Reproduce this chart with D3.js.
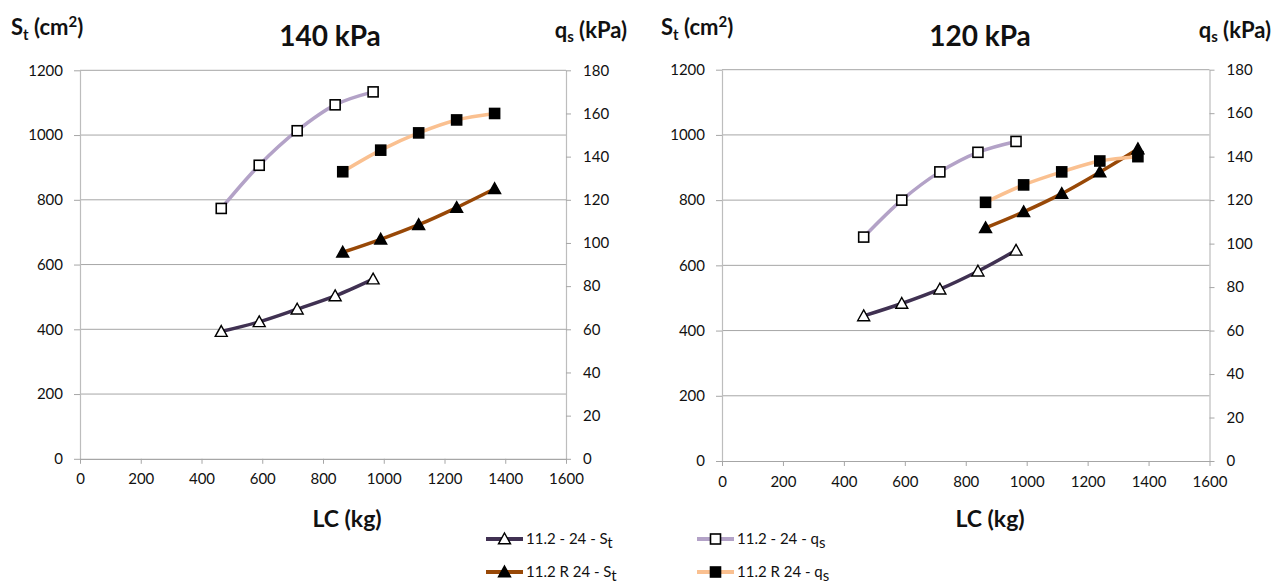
<!DOCTYPE html>
<html>
<head>
<meta charset="utf-8">
<script src="https://cdn.jsdelivr.net/npm/d3@7/dist/d3.min.js"></script>
<style>
  html, body { margin: 0; padding: 0; background: #fff; }
  svg { display: block; font-family: Lato, "Open Sans", sans-serif; }
</style>
</head>
<body>
<svg id="chart" width="1272" height="585"></svg>
<script>
// Load capacity (kg) at each test point
const lcA = [465, 590, 715, 840, 965];
const lcR = [865, 990, 1115, 1240, 1365];

// 140 kPa panel
const st140A = [393, 423, 462, 503, 555];
const st140R = [638, 678, 723, 776, 834];
const qs140A = [116, 136, 152, 164, 170];
const qs140R = [133, 143, 151, 157, 160];

// 120 kPa panel
const st120A = [445, 483, 527, 582, 646];
const st120R = [715, 764, 820, 886, 957];
const qs120A = [103, 120, 133, 142, 147];
const qs120R = [119, 127, 133, 138, 140];

// Axis ticks
const xTicks = [0, 200, 400, 600, 800, 1000, 1200, 1400, 1600];
const stTicks = [0, 200, 400, 600, 800, 1000, 1200];
const qsTicks = [0, 20, 40, 60, 80, 100, 120, 140, 160, 180];

const panelTitles = ["140 kPa", "120 kPa"];

const seriesStyle = {
  stA: { color: "#403152", marker: "triangle", fill: "#fff" },
  stR: { color: "#984807", marker: "triangle", fill: "#000" },
  qsA: { color: "#b3a2c7", marker: "square", fill: "#fff" },
  qsR: { color: "#fac090", marker: "square", fill: "#000" }
};

const svg = d3.select("#chart");
const fmt = d3.format("d");

function drawMarker(g, type, fill, x, y) {
  if (type === "square") {
    g.append("rect")
      .attr("x", x - 5).attr("y", y - 5)
      .attr("width", 10).attr("height", 10)
      .attr("fill", fill).attr("stroke", "#000").attr("stroke-width", 1.6);
  } else {
    const s = 6;
    g.append("path")
      .attr("d", `M${x},${y - s}L${x + s},${y + s * 0.8}L${x - s},${y + s * 0.8}Z`)
      .attr("fill", fill).attr("stroke", "#000").attr("stroke-width", 1.4);
  }
}

function drawPanel(cfg) {
  const x = d3.scaleLinear().domain([0, 1600]).range([cfg.left, cfg.right]);
  const yL = d3.scaleLinear().domain([0, 1200]).range([cfg.bottom, cfg.top]);
  const yR = d3.scaleLinear().domain([0, 180]).range([cfg.bottom, cfg.top]);
  const g = svg.append("g");

  // horizontal gridlines
  g.selectAll(".grid").data(stTicks.filter(d => d > 0)).enter().append("line")
    .attr("x1", cfg.left).attr("x2", cfg.right)
    .attr("y1", d => yL(d)).attr("y2", d => yL(d))
    .attr("stroke", "#a6a6a6").attr("stroke-width", 1);

  // left axis
  const axL = g.append("g").attr("transform", `translate(${cfg.left},0)`)
    .call(d3.axisLeft(yL).tickValues(stTicks).tickFormat(fmt).tickSize(6).tickPadding(11).tickSizeOuter(0));
  // right axis
  const axR = g.append("g").attr("transform", `translate(${cfg.right},0)`)
    .call(d3.axisRight(yR).tickValues(qsTicks).tickFormat(fmt).tickSize(5).tickPadding(12).tickSizeOuter(0));
  // bottom axis
  const axB = g.append("g").attr("transform", `translate(0,${cfg.bottom})`)
    .call(d3.axisBottom(x).tickValues(xTicks).tickFormat(fmt).tickSize(5).tickPadding(10).tickSizeOuter(0));

  [axL, axR, axB].forEach(a => {
    a.select(".domain").attr("stroke", "#bdbdbd").attr("stroke-width", 1.2);
    a.selectAll(".tick line").attr("stroke", "#a6a6a6");
    a.selectAll(".tick text").attr("fill", "#111").attr("font-size", 15)
      .attr("font-family", "Lato, sans-serif");
  });
  axB.select(".domain").attr("stroke", "#a6a6a6");

  const line = d3.line().curve(d3.curveCatmullRom.alpha(0.5));
  const series = [
    { key: "stA", xs: lcA, ys: cfg.stA, scale: yL },
    { key: "stR", xs: lcR, ys: cfg.stR, scale: yL },
    { key: "qsA", xs: lcA, ys: cfg.qsA, scale: yR },
    { key: "qsR", xs: lcR, ys: cfg.qsR, scale: yR }
  ];
  series.forEach(s => {
    const st = seriesStyle[s.key];
    const pts = s.xs.map((v, i) => [x(v), s.scale(s.ys[i])]);
    g.append("path").attr("d", line(pts))
      .attr("fill", "none").attr("stroke", st.color)
      .attr("stroke-width", 3.5).attr("stroke-linecap", "round");
    pts.forEach(p => drawMarker(g, st.marker, st.fill, p[0], p[1]));
  });

  // panel title
  g.append("text").attr("x", cfg.titleX).attr("y", 46)
    .attr("text-anchor", "middle").attr("font-weight", "bold")
    .attr("font-size", 28).attr("fill", "#111").text(cfg.title);

  // left axis title: S_t (cm²)
  const tl = g.append("text").attr("x", cfg.stTitleX).attr("y", 35)
    .attr("font-weight", "bold").attr("font-size", 22).attr("fill", "#111");
  tl.append("tspan").text("S");
  tl.append("tspan").attr("font-size", 15).attr("dy", 5).text("t");
  tl.append("tspan").attr("dy", -5).text(" (cm");
  tl.append("tspan").attr("font-size", 15).attr("dy", -8).text("2");
  tl.append("tspan").attr("dy", 8).text(")");

  // right axis title: q_s (kPa)
  const tr = g.append("text").attr("x", cfg.qsTitleX).attr("y", 38)
    .attr("text-anchor", "end")
    .attr("font-weight", "bold").attr("font-size", 22).attr("fill", "#111");
  tr.append("tspan").text("q");
  tr.append("tspan").attr("font-size", 15).attr("dy", 4).text("s");
  tr.append("tspan").attr("dy", -4).text(" (kPa)");

  // x axis title
  g.append("text").attr("x", cfg.lcX).attr("y", 527)
    .attr("text-anchor", "middle").attr("font-weight", "bold")
    .attr("font-size", 23).attr("fill", "#111").text("LC (kg)");
}

drawPanel({
  left: 80, right: 566, top: 70.3, bottom: 458.8,
  title: panelTitles[0], titleX: 330, stTitleX: 11, qsTitleX: 627, lcX: 347,
  stA: st140A, stR: st140R, qsA: qs140A, qsR: qs140R
});
drawPanel({
  left: 722, right: 1209.5, top: 69.7, bottom: 461,
  title: panelTitles[1], titleX: 980, stTitleX: 661, qsTitleX: 1271, lcX: 990,
  stA: st120A, stR: st120R, qsA: qs120A, qsR: qs120R
});

// legend
const legendItems = [
  { key: "stA", label: "11.2 - 24 - ", sub: "t", x: 486, y: 539 },
  { key: "stR", label: "11.2 R 24 - ", sub: "t", x: 486, y: 572 },
  { key: "qsA", label: "11.2 - 24 - ", sub: "s", x: 697, y: 539 },
  { key: "qsR", label: "11.2 R 24 - ", sub: "s", x: 697, y: 572 }
];
const lg = svg.append("g");
legendItems.forEach(it => {
  const st = seriesStyle[it.key];
  lg.append("line").attr("x1", it.x).attr("x2", it.x + 37)
    .attr("y1", it.y).attr("y2", it.y)
    .attr("stroke", st.color).attr("stroke-width", 4);
  drawMarker(lg, st.marker, st.fill, it.x + 18.5, it.y);
  const t = lg.append("text").attr("x", it.x + 40).attr("y", it.y + 5)
    .attr("font-size", 15).attr("fill", "#111");
  t.append("tspan").text(it.label + (it.key.startsWith("st") ? "S" : "q"));
  t.append("tspan").attr("dy", 4).text(it.sub);
});
</script>
</body>
</html>
